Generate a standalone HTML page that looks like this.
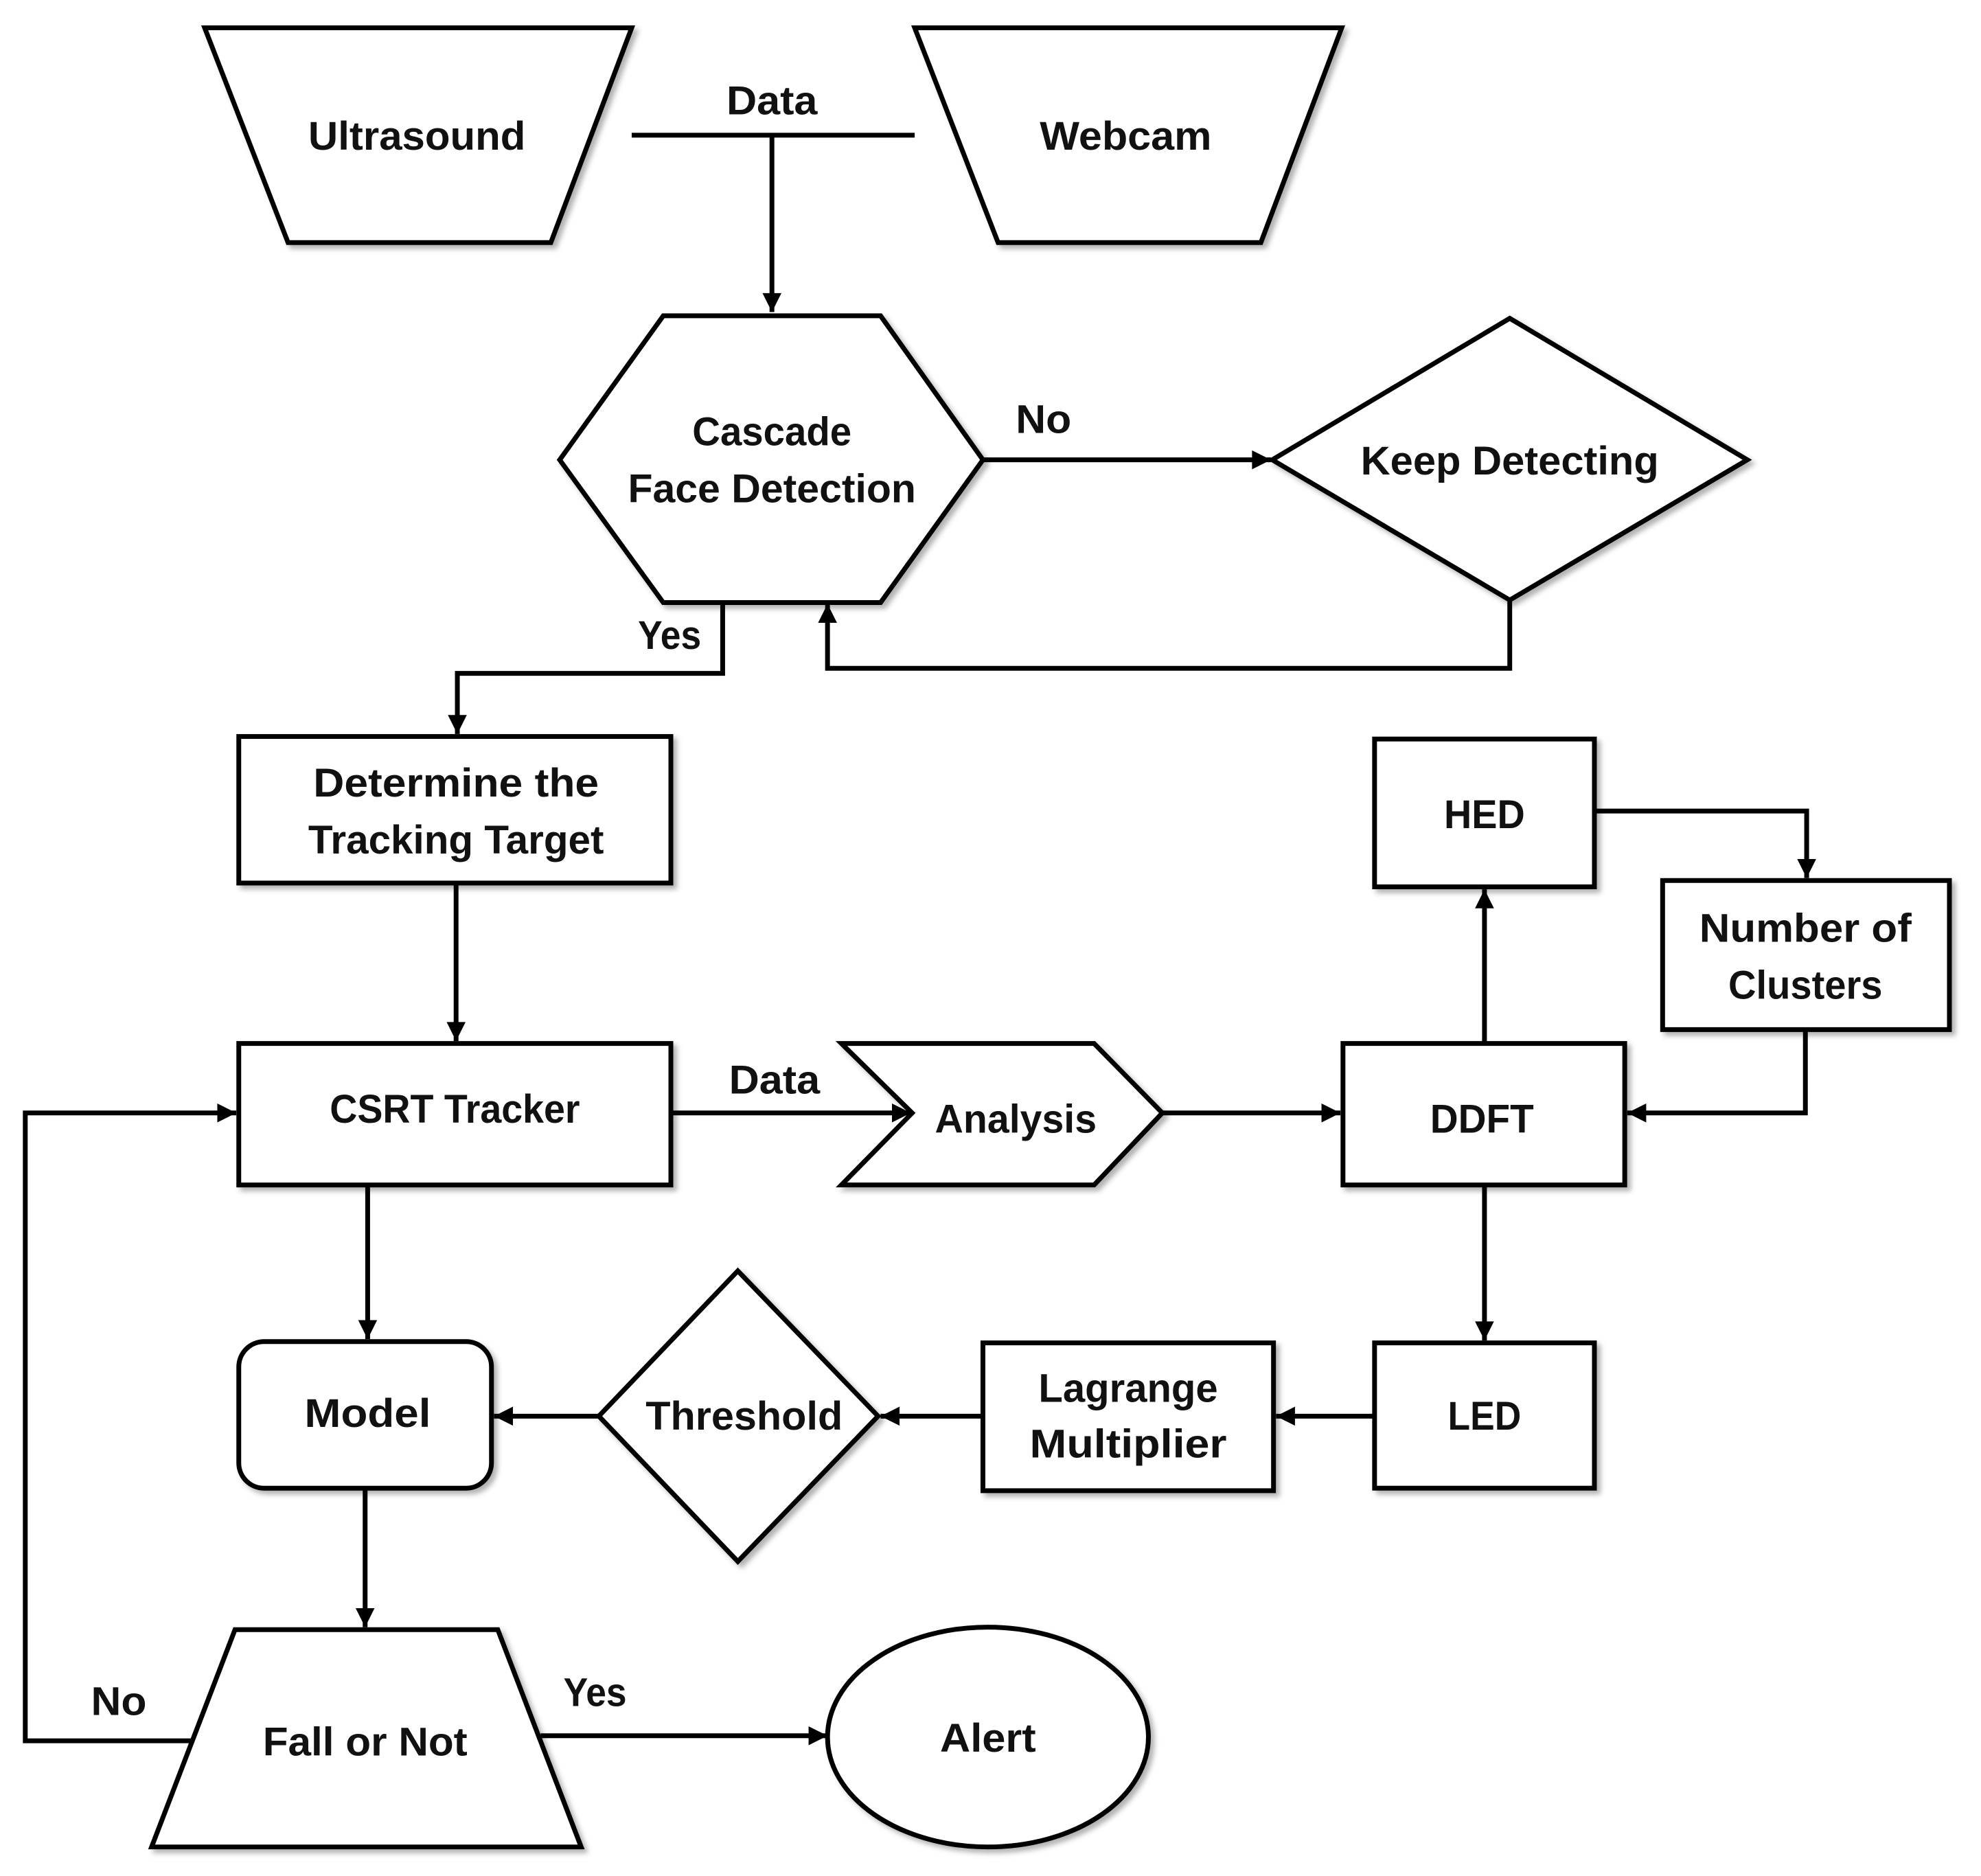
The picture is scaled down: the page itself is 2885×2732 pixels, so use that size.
<!DOCTYPE html>
<html><head><meta charset="utf-8"><style>html,body{margin:0;padding:0;background:#fff}svg{display:block}</style></head><body>
<svg width="2885" height="2732" viewBox="0 0 1568 1485" preserveAspectRatio="none" xmlns="http://www.w3.org/2000/svg">
<defs>
<marker id="b" viewBox="0 0 10 10" refX="10" refY="5" markerWidth="24" markerHeight="15" orient="auto" markerUnits="userSpaceOnUse"><path d="M0,0L10,5L0,10z" fill="#000"/></marker>
<filter id="s" x="-10%" y="-10%" width="130%" height="130%"><feDropShadow dx="3" dy="3" stdDeviation="2" flood-color="#000" flood-opacity="0.3"/></filter>
</defs>
<g fill="#fff" stroke="#000" stroke-width="3.8" filter="url(#s)">
<polygon points="162,22 500,22 436,192 228,192"/>
<polygon points="724,22 1062,22 998,192 790,192"/>
<polygon points="443,364 525,250 697,250 778,364 697,477 525,477"/>
<polygon points="1007,364 1195,252 1383,364 1195,475"/>
<rect x="189" y="583" width="342" height="116"/>
<rect x="189" y="826" width="342" height="112"/>
<polygon points="666,826 866,826 920,881 866,938 666,938 722,881"/>
<rect x="1063" y="826" width="223" height="112"/>
<rect x="1088" y="585" width="174" height="117"/>
<rect x="1316" y="697" width="227" height="118"/>
<rect x="1088" y="1063" width="174" height="115"/>
<rect x="778" y="1063" width="230" height="117"/>
<polygon points="474,1121 584,1006 695,1121 584,1236"/>
<rect x="189" y="1062" width="200" height="116" rx="20"/>
<polygon points="186,1290 394,1290 460,1462 120,1462"/>
<ellipse cx="782" cy="1375" rx="127" ry="87"/>
</g>
<g fill="none" stroke="#000" stroke-width="3.8">
<line x1="500" y1="107" x2="724" y2="107"/>
<line x1="611" y1="107" x2="611" y2="247" marker-end="url(#b)"/>
<line x1="778" y1="364" x2="1006" y2="364" marker-end="url(#b)"/>
<polyline points="1195,475 1195,529 655,529 655,478" marker-end="url(#b)"/>
<polyline points="572,477 572,533 362,533 362,581" marker-end="url(#b)"/>
<line x1="361" y1="699" x2="361" y2="824" marker-end="url(#b)"/>
<line x1="531" y1="881" x2="721" y2="881" marker-end="url(#b)"/>
<line x1="920" y1="881" x2="1061" y2="881" marker-end="url(#b)"/>
<line x1="1175" y1="826" x2="1175" y2="704" marker-end="url(#b)"/>
<polyline points="1262,642 1430,642 1430,695" marker-end="url(#b)"/>
<polyline points="1429,815 1429,881 1288,881" marker-end="url(#b)"/>
<line x1="1175" y1="938" x2="1175" y2="1061" marker-end="url(#b)"/>
<line x1="1088" y1="1121" x2="1010" y2="1121" marker-end="url(#b)"/>
<line x1="778" y1="1121" x2="697" y2="1121" marker-end="url(#b)"/>
<line x1="474" y1="1121" x2="391" y2="1121" marker-end="url(#b)"/>
<line x1="291" y1="938" x2="291" y2="1060" marker-end="url(#b)"/>
<line x1="289" y1="1178" x2="289" y2="1288" marker-end="url(#b)"/>
<polyline points="151,1378 20,1378 20,881 187,881" marker-end="url(#b)"/>
<line x1="428" y1="1374" x2="655" y2="1374" marker-end="url(#b)"/>
</g>
<g font-family="Liberation Sans, sans-serif" font-weight="bold" font-size="32" text-anchor="middle" dominant-baseline="central" fill="#111">
<text x="330" y="108" textLength="172" lengthAdjust="spacingAndGlyphs">Ultrasound</text>
<text x="891" y="108" textLength="136" lengthAdjust="spacingAndGlyphs">Webcam</text>
<text x="611" y="80" textLength="72" lengthAdjust="spacingAndGlyphs">Data</text>
<text x="611" y="342" textLength="126" lengthAdjust="spacingAndGlyphs">Cascade</text>
<text x="611" y="387" textLength="228" lengthAdjust="spacingAndGlyphs">Face Detection</text>
<text x="826" y="332" textLength="44" lengthAdjust="spacingAndGlyphs">No</text>
<text x="1195" y="365" textLength="236" lengthAdjust="spacingAndGlyphs">Keep Detecting</text>
<text x="530" y="503" textLength="50" lengthAdjust="spacingAndGlyphs">Yes</text>
<text x="361" y="620" textLength="226" lengthAdjust="spacingAndGlyphs">Determine the</text>
<text x="361" y="665" textLength="234" lengthAdjust="spacingAndGlyphs">Tracking Target</text>
<text x="360" y="878" textLength="198" lengthAdjust="spacingAndGlyphs">CSRT Tracker</text>
<text x="613" y="855" textLength="72" lengthAdjust="spacingAndGlyphs">Data</text>
<text x="804" y="886" textLength="128" lengthAdjust="spacingAndGlyphs">Analysis</text>
<text x="1173" y="886" textLength="82" lengthAdjust="spacingAndGlyphs">DDFT</text>
<text x="1175" y="645" textLength="64" lengthAdjust="spacingAndGlyphs">HED</text>
<text x="1429" y="735" textLength="168" lengthAdjust="spacingAndGlyphs">Number of</text>
<text x="1429" y="780" textLength="122" lengthAdjust="spacingAndGlyphs">Clusters</text>
<text x="1175" y="1121" textLength="58" lengthAdjust="spacingAndGlyphs">LED</text>
<text x="893" y="1099" textLength="142" lengthAdjust="spacingAndGlyphs">Lagrange</text>
<text x="893" y="1143" textLength="156" lengthAdjust="spacingAndGlyphs">Multiplier</text>
<text x="589" y="1121" textLength="156" lengthAdjust="spacingAndGlyphs">Threshold</text>
<text x="291" y="1119" textLength="100" lengthAdjust="spacingAndGlyphs">Model</text>
<text x="289" y="1379" textLength="162" lengthAdjust="spacingAndGlyphs">Fall or Not</text>
<text x="94" y="1347" textLength="44" lengthAdjust="spacingAndGlyphs">No</text>
<text x="471" y="1340" textLength="50" lengthAdjust="spacingAndGlyphs">Yes</text>
<text x="782" y="1376" textLength="76" lengthAdjust="spacingAndGlyphs">Alert</text>
</g>
</svg>
</body></html>
